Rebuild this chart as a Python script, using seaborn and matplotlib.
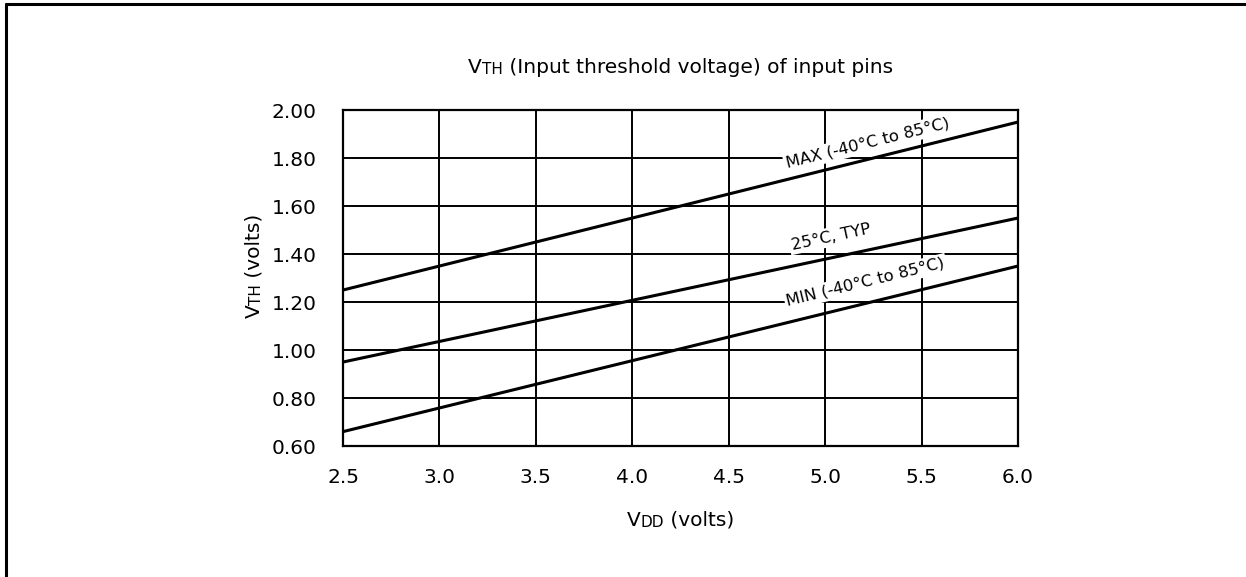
import numpy as np
import pandas as pd
import matplotlib
matplotlib.use('Agg')
import matplotlib.pyplot as plt
import seaborn as sns

# data (straight-line characteristics)
vdd = [2.5, 6.0]
vth_max = [1.25, 1.95]
vth_typ = [0.95, 1.55]
vth_min = [0.66, 1.35]
curve_names = ['MAX (-40°C to 85°C)', '25°C, TYP', 'MIN (-40°C to 85°C)']
x_ticks = [2.5, 3.0, 3.5, 4.0, 4.5, 5.0, 5.5, 6.0]
y_ticks = [0.60, 0.80, 1.00, 1.20, 1.40, 1.60, 1.80, 2.00]

# where each curve label sits (data coords of text centre)
label_pos = [(5.22, 1.862), (5.03, 1.471), (5.21, 1.283)]

df = pd.DataFrame({
    'vdd': vdd * 3,
    'vth': vth_max + vth_typ + vth_min,
    'curve': [n for n in curve_names for _ in vdd],
})

sns.set_theme(style='white')
plt.rcParams['font.family'] = ['DejaVu Sans']

fig = plt.figure(figsize=(12.46, 5.77), dpi=100)
ax = fig.add_axes([0.2753, 0.2270, 0.5417, 0.5823])

sns.lineplot(data=df, x='vdd', y='vth', hue='curve', palette=['black'] * 3,
             legend=False, linewidth=2.2, ax=ax, zorder=3)

ax.set_xlim(2.5, 6.0)
ax.set_ylim(0.6, 2.0)
ax.set_xticks(x_ticks)
ax.set_yticks(y_ticks)
ax.set_xticklabels([f'{v:.1f}' for v in x_ticks])
ax.set_yticklabels([f'{v:.2f}' for v in y_ticks])
ax.tick_params(axis='both', length=0, labelsize=14.5, colors='black')
ax.tick_params(axis='x', pad=16)
ax.tick_params(axis='y', pad=19)
ax.grid(True, color='black', linewidth=1.4)
ax.set_axisbelow(True)
for sp in ax.spines.values():
    sp.set_color('black')
    sp.set_linewidth(1.6)
ax.set_xlabel('')
ax.set_ylabel('')

# curve labels, rotated along their line, white box hides grid behind
for name, ys, (lx, ly) in zip(curve_names, [vth_max, vth_typ, vth_min], label_pos):
    p0 = ax.transData.transform((vdd[0], ys[0]))
    p1 = ax.transData.transform((vdd[1], ys[1]))
    ang = np.degrees(np.arctan2(p1[1] - p0[1], p1[0] - p0[0]))
    ax.text(lx, ly, name, rotation=ang, rotation_mode='anchor', ha='center',
            va='center', fontsize=11.8, color='black', zorder=2.5,
            bbox=dict(facecolor='white', edgecolor='none', pad=1.5))


def chain(x, y, parts, rotation=0):
    # draw text pieces of different size one after another
    t = fig.text(x, y, parts[0][0], fontsize=parts[0][1], rotation=rotation,
                 ha='left' if rotation == 0 else 'right',
                 va='baseline' if rotation == 0 else 'bottom', color='black')
    texts = [t]
    for s, size in parts[1:]:
        if rotation == 0:
            t = ax.annotate(s, xy=(1, 0), xycoords=texts[-1], va='bottom',
                            ha='left', fontsize=size, color='black',
                            annotation_clip=False)
        else:
            t = ax.annotate(s, xy=(1, 1), xycoords=texts[-1], va='bottom',
                            ha='right', fontsize=size, rotation=90,
                            color='black', annotation_clip=False)
        texts.append(t)
    return texts


title = chain(0, 1 - 73 / 577, [('V', 14.5), ('TH', 11),
                                 (' (Input threshold voltage) of input pins', 14.5)])
xlab = chain(0, 1 - 526 / 577, [('V', 14.5), ('DD', 11), (' (volts)', 14.5)])
ylab = chain(264 / 1246, 0, [('V', 14.5), ('TH', 11), (' (volts)', 14.5)], rotation=90)

# centre the composed labels
fig.canvas.draw()
r = fig.canvas.get_renderer()
cx = (343 + 1018) / 2 / 1246
cy = 1 - 266 / 577
for grp in (title, xlab):
    x0 = grp[0].get_window_extent(r).x0
    x1 = grp[-1].get_window_extent(r).x1
    w = (x1 - x0) / fig.bbox.width
    grp[0].set_x(cx - w / 2)
y0 = ylab[0].get_window_extent(r).y0
y1 = ylab[-1].get_window_extent(r).y1
h = (y1 - y0) / fig.bbox.height
ylab[0].set_y(cy - h / 2)

# frame lines on top and left like the source page
fig.add_artist(plt.Line2D([6 / 1246, 1.0], [1 - 4 / 577] * 2, color='black',
                          linewidth=2.2, transform=fig.transFigure))
fig.add_artist(plt.Line2D([6 / 1246] * 2, [0.0, 1 - 4 / 577], color='black',
                          linewidth=2.2, transform=fig.transFigure))

fig.savefig('out.png', dpi=100, facecolor='white')
